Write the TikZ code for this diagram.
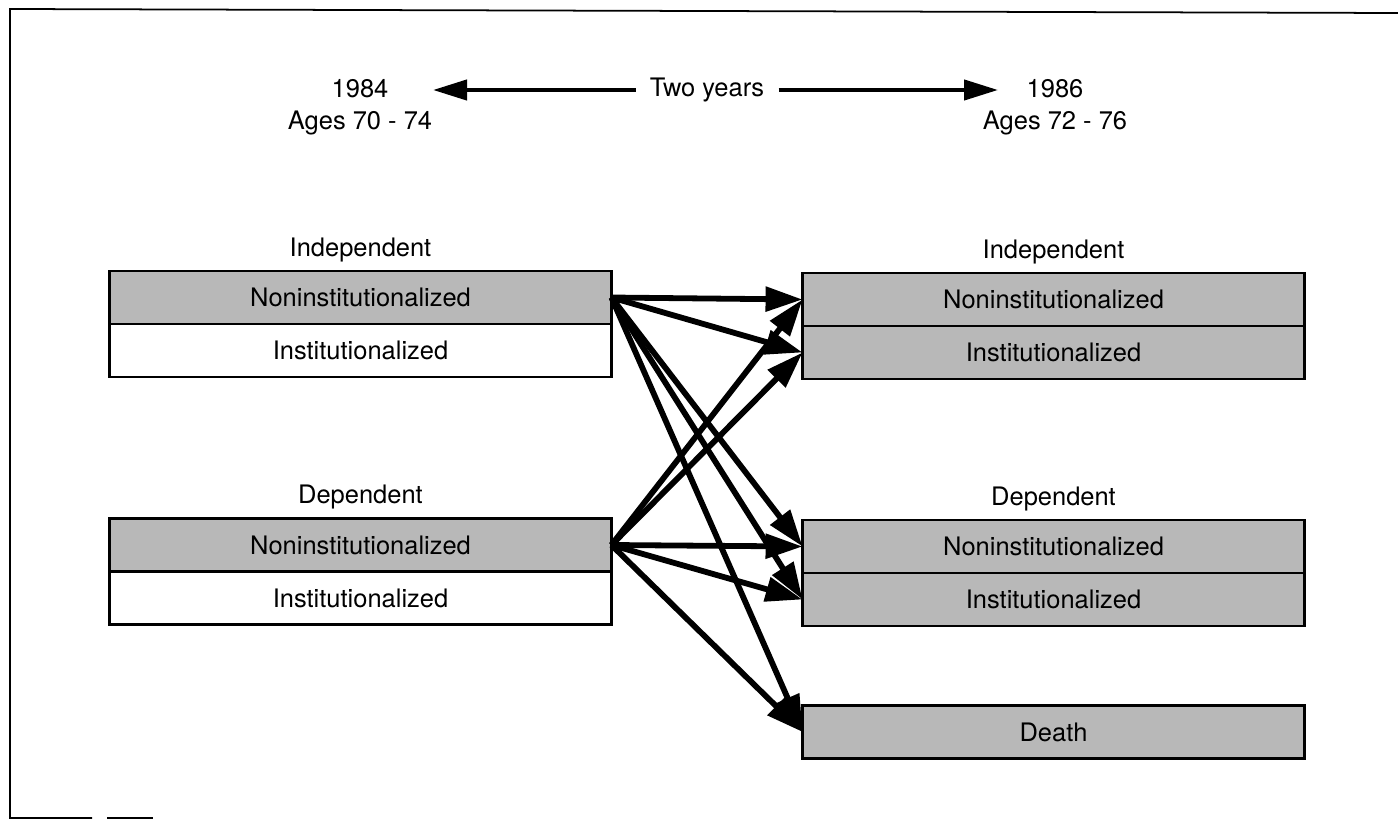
\documentclass[tikz,border=0pt]{standalone}
\usepackage{fontspec}
\setmainfont{TeX Gyre Heros}
\usetikzlibrary{positioning,arrows.meta}

\tikzset{
  cell/.style={draw, line width=1.3pt, minimum width=10.04cm, minimum height=1.06cm, inner sep=0pt, outer sep=0pt},
  shaded/.style={cell, fill=black!28},
  plain/.style={cell, fill=white},
  move/.style={line width=3.3pt, -{Triangle[length=0.74cm,width=0.48cm]}},
  span/.style={line width=2.4pt, -{Triangle[length=0.68cm,width=0.4cm]}},
}

\begin{document}
\begin{tikzpicture}[x=0.02cm, y=-0.02cm, font=\fontsize{14.5}{18.5}\selectfont]
  \useasboundingbox (0,0) rectangle (1398,821);
  % frame
  \draw[line width=1pt] (1398,13) -- (10,9) -- (10,818) -- (92,818);
  \draw[line width=1pt] (107,818) -- (153,818);

  % time span
  \node[align=center] (t0) at (360,107) {1984\\Ages 70 - 74};
  \node[align=center] (t1) at (1055,107) {1986\\Ages 72 - 76};
  \node[inner xsep=0.28cm] (yrs) at (707,90) {Two years};
  \coordinate (t0tip) at (433,90);
  \coordinate (t1tip) at (998,90);
  \draw[span] (yrs.west) -- (t0tip);
  \draw[span] (yrs.east) -- (t1tip);

  % 1984
  \node[shaded] (l-ind-non) at (360.5,297.5) {Noninstitutionalized};
  \node[plain, below=0pt of l-ind-non] (l-ind-inst) {Institutionalized};
  \node[above=0.06cm of l-ind-non] (l-ind) {Independent};
  \node[shaded] (l-dep-non) at (360.5,545) {Noninstitutionalized};
  \node[plain, below=0pt of l-dep-non] (l-dep-inst) {Institutionalized};
  \node[above=0.06cm of l-dep-non] (l-dep) {Dependent};

  % 1986
  \node[shaded] (r-ind-non) at (1053.5,299.5) {Noninstitutionalized};
  \node[shaded, below=0pt of r-ind-non] (r-ind-inst) {Institutionalized};
  \node[above=0.06cm of r-ind-non] (r-ind) {Independent};
  \node[shaded] (r-dep-non) at (1053.5,546.5) {Noninstitutionalized};
  \node[shaded, below=0pt of r-dep-non] (r-dep-inst) {Institutionalized};
  \node[above=0.06cm of r-dep-non] (r-dep) {Dependent};
  \node[shaded] (r-death) at (1053.5,732) {Death};

  % transitions
  \path[move]
  (l-ind-non.east) edge (r-ind-non.west)
                   edge (r-ind-inst.west)
                   edge (r-dep-non.west)
                   edge (r-dep-inst.west)
                   edge (r-death.west)
  (l-dep-non.east) edge (r-ind-non.west)
                   edge (r-ind-inst.west)
                   edge (r-dep-non.west)
                   edge (r-dep-inst.west)
                   edge (r-death.west)
                   ;
\end{tikzpicture}
\end{document}
